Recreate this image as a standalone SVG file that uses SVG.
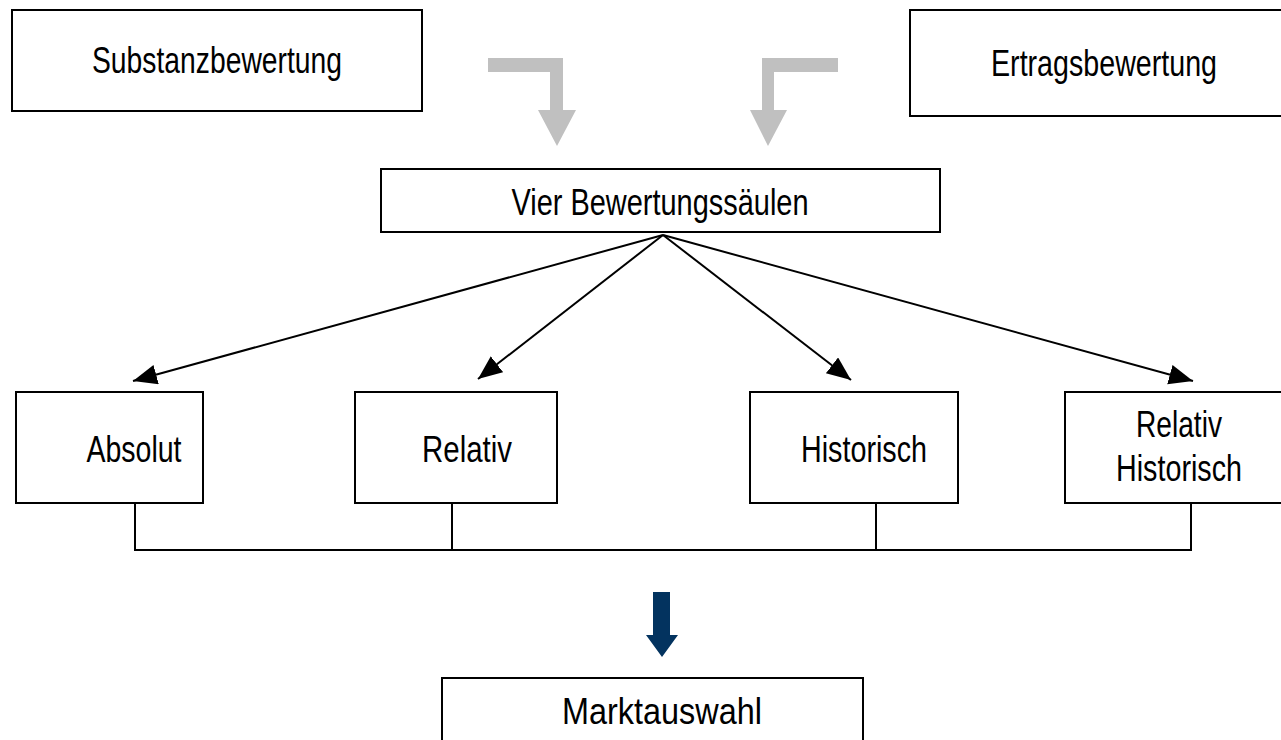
<svg xmlns="http://www.w3.org/2000/svg" width="1281" height="740" viewBox="0 0 1281 740">
<style>
.box{fill:#fff;stroke:#000;stroke-width:2}
.t{font-family:"Liberation Sans Narrow","Liberation Sans",Arial,sans-serif;font-size:36px;fill:#000;text-anchor:middle}
.ln{stroke:#000;stroke-width:2;fill:none}
.gray{fill:#C0C0C0}
</style>
<defs>
<marker id="ah" markerUnits="userSpaceOnUse" markerWidth="26" markerHeight="22" refX="24" refY="10" orient="auto" viewBox="0 0 26 22">
<path d="M0,0 L24,10 L0,20 z" fill="#000"/>
</marker>
</defs>
<g id="substanz">
<rect class="box" x="12" y="10" width="410" height="101"/>
<text class="t" x="217" y="73" textLength="250" lengthAdjust="spacingAndGlyphs">Substanzbewertung</text>
</g>
<g id="ertrag">
<rect class="box" x="910" y="10" width="380" height="106"/>
<text class="t" x="1104" y="76" textLength="226" lengthAdjust="spacingAndGlyphs">Ertragsbewertung</text>
</g>
<g id="vier">
<rect class="box" x="381" y="169" width="559" height="63"/>
<text class="t" x="660" y="215" textLength="297" lengthAdjust="spacingAndGlyphs">Vier Bewertungssäulen</text>
</g>
<g id="absolut">
<rect class="box" x="16" y="392" width="187" height="111"/>
<text class="t" x="134" y="462" textLength="95" lengthAdjust="spacingAndGlyphs">Absolut</text>
</g>
<g id="relativ">
<rect class="box" x="355" y="392" width="202" height="111"/>
<text class="t" x="467" y="462" textLength="90" lengthAdjust="spacingAndGlyphs">Relativ</text>
</g>
<g id="historisch">
<rect class="box" x="750" y="392" width="208" height="111"/>
<text class="t" x="864" y="462" textLength="126" lengthAdjust="spacingAndGlyphs">Historisch</text>
</g>
<g id="relhist">
<rect class="box" x="1065" y="392" width="230" height="111"/>
<text class="t" x="1179" y="437" textLength="86" lengthAdjust="spacingAndGlyphs">Relativ</text>
<text class="t" x="1179" y="481" textLength="126" lengthAdjust="spacingAndGlyphs">Historisch</text>
</g>
<g id="markt">
<rect class="box" x="442" y="678" width="421" height="80"/>
<text class="t" x="662" y="724" textLength="200" lengthAdjust="spacingAndGlyphs">Marktauswahl</text>
</g>
<g id="connectors">
<path class="gray" d="M488,58 L563,58 L563,110 L576,110 L557,146 L538,110 L550,110 L550,72 L488,72 z"/>
<path class="gray" d="M838,58 L762,58 L762,110 L750,110 L768,146 L787,110 L774,110 L774,72 L838,72 z"/>
<line class="ln" x1="663" y1="235" x2="133" y2="381" marker-end="url(#ah)"/>
<line class="ln" x1="663" y1="235" x2="478" y2="379" marker-end="url(#ah)"/>
<line class="ln" x1="663" y1="235" x2="851" y2="380" marker-end="url(#ah)"/>
<line class="ln" x1="663" y1="235" x2="1193" y2="381" marker-end="url(#ah)"/>
<path class="ln" d="M135,503 L135,550 L1191,550 L1191,503"/>
<line class="ln" x1="452" y1="503" x2="452" y2="550"/>
<line class="ln" x1="876" y1="503" x2="876" y2="550"/>
<path d="M653,592 L670,592 L670,635 L678,635 L662,657 L646,635 L653,635 z" fill="#03335F"/>
</g>
</svg>
